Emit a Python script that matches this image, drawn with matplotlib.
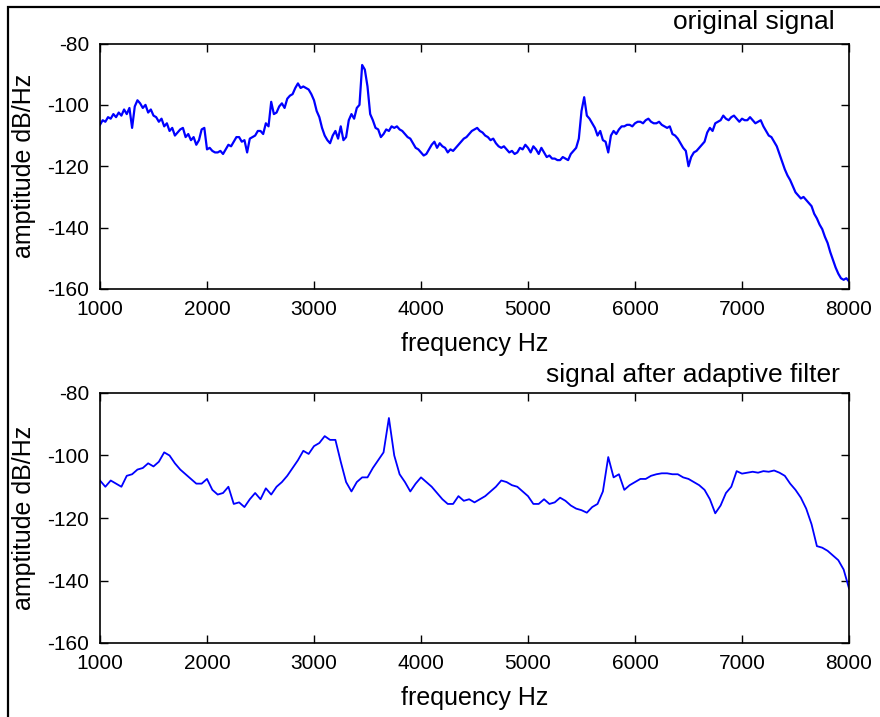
import numpy as np
import matplotlib
matplotlib.use("Agg")
import matplotlib.pyplot as plt
from matplotlib.patches import Rectangle

plt.rcParams['font.family'] = ['Liberation Sans', 'DejaVu Sans']
plt.rcParams['axes.unicode_minus'] = False

# frequency grids (Hz)
freq_orig = np.arange(1000, 8001, 25)
freq_filt = np.arange(1000, 8001, 50)

# original signal (dB/Hz), 25 Hz steps
original = [
    -106.5, -105, -105.5, -104, -104.5, -103, -104, -102.5, -103.5, -101.5,
    -103, -101, -107.5, -100.5, -98.5, -99.5, -101, -100, -102.5, -101.5,
    -103.5, -104, -105.5, -104.5, -107, -106, -108.5, -107.5, -110, -109,
    -108, -107.5, -110.5, -109.5, -111.5, -110.5, -113, -111.5, -108, -107.5,
    -114.5, -114, -115, -115.5, -115.5, -115, -116, -114.5, -113, -113.5,
    -112, -110.5, -110.5, -112, -111.5, -115.5, -111, -110.5, -110, -108.5,
    -108.5, -109.5, -106, -107, -99, -103, -102.5, -100.5, -99.5, -101,
    -98, -97, -96.5, -94.5, -93, -94.5, -94, -94.5, -95, -96.5,
    -98.5, -102, -104, -107.5, -110, -111.5, -112.5, -110, -108.5, -111,
    -107, -111.5, -110.5, -105, -103, -104.5, -101, -100, -87, -88.5,
    -94, -103, -105, -107.5, -108, -110.5, -109.5, -108, -108.5, -107,
    -107.5, -107, -108, -108.5, -109.5, -110.5, -111, -112.5, -114, -114.5,
    -115.5, -116.5, -116, -114.5, -113, -112, -114, -112.5, -113.5, -114,
    -115.5, -114.5, -115, -114, -113, -112, -111, -110.5, -109.5, -108.5,
    -108, -107.5, -108.5, -109, -110, -110.5, -111.5, -111, -112.5, -113.5,
    -114, -113.5, -114.5, -115.5, -115, -116, -115.5, -114, -114.5, -113,
    -114, -115.5, -113.5, -114.5, -116, -114, -115.5, -117, -116.5, -117.5,
    -117.5, -118, -118, -117, -117.5, -118, -116, -115, -114, -111,
    -102, -97.5, -103.5, -104.5, -106, -107.5, -110, -108.5, -111.5, -112,
    -115.5, -110, -108.5, -109.5, -108, -107, -107, -106.5, -106.5, -107,
    -106, -105.5, -105.5, -106, -105, -104.5, -105.5, -106, -106, -105.5,
    -106.5, -107, -107.5, -107, -109.5, -110, -111, -112.5, -114, -115,
    -120, -117, -115.5, -115, -114, -113, -112, -109, -107.5, -108.5,
    -106, -105.5, -105, -103.5, -104.5, -105, -104, -103.5, -104.5, -105.5,
    -104.5, -105, -105, -104, -105, -106, -105.5, -105, -107, -108.5,
    -110, -110.5, -112, -113.5, -116, -118.5, -121, -123, -124.5, -126.5,
    -128.5, -129.5, -130.5, -130, -131, -132, -133, -135.5, -137, -139,
    -140.5, -143, -145, -148, -150.5, -153, -155, -156.5, -157, -156.5,
    -157.5,
]

# signal after adaptive filter (dB/Hz), 50 Hz steps
filtered = [
    -108.0, -110.0, -108.0, -109.0, -110.0, -106.5, -106.0, -104.5, -104.0, -102.5,
    -103.5, -102.0, -99.0, -100.0, -102.5, -104.5, -106.0, -107.5, -109.0, -109.0,
    -107.5, -111.0, -112.5, -112.0, -110.0, -115.5, -115.0, -116.5, -114.0, -112.0,
    -114.0, -110.5, -112.5, -110.0, -108.5, -106.5, -104.0, -101.5, -98.5, -99.5,
    -97.0, -96.0, -93.8, -95.0, -95.0, -102.0, -108.5, -111.5, -108.5, -107.0,
    -107.0, -104.0, -101.5, -99.0, -88.0, -100.0, -106.0, -108.5, -111.5, -109.0,
    -107.0, -108.5, -110.0, -112.0, -114.0, -115.5, -115.5, -113.0, -114.5, -114.0,
    -115.0, -114.0, -113.0, -111.5, -110.0, -108.0, -108.5, -109.5, -110.0, -111.5,
    -113.0, -115.5, -115.5, -114.0, -115.5, -115.0, -113.5, -114.5, -116.0, -117.0,
    -117.5, -118.3, -116.5, -115.5, -111.5, -100.5, -107.0, -106.0, -111.0, -109.5,
    -108.5, -107.5, -107.5, -106.5, -106.0, -105.7, -105.7, -106.0, -106.0, -107.0,
    -107.5, -108.5, -109.5, -111.0, -114.0, -118.5, -116.0, -112.0, -110.0, -105.0,
    -105.8, -105.5, -105.2, -105.5, -105.0, -105.2, -104.8, -105.5, -106.5, -109.0,
    -111.0, -113.5, -117.0, -122.0, -129.0, -129.5, -130.5, -132.0, -133.5, -136.5,
    -142.5,
]

titles = ["original signal", "signal after adaptive filter"]
xticks = [1000, 2000, 3000, 4000, 5000, 6000, 7000, 8000]
yticks = [-160, -140, -120, -100, -80]
xlabel = "frequency Hz"
ylabel = "amptitude dB/Hz"

W, H = 880, 717
fig = plt.figure(figsize=(W / 100, H / 100), dpi=100)

axes_px = [(100, 43.5, 849, 289), (100, 393, 849, 643)]
title_px = [(835, 22), (840, 375)]
series = [(freq_orig, original), (freq_filt, filtered)]
lws = [1.6, 1.3]

for (x0, y0, x1, y1), (tx, ty), (fx, data), lw, title in zip(axes_px, title_px, series, lws, titles):
    ax = fig.add_axes([x0 / W, 1 - y1 / H, (x1 - x0) / W, (y1 - y0) / H])
    ax.plot(fx, data, color=(0, 0, 1), lw=lw)
    ax.set_xlim(1000, 8000)
    ax.set_ylim(-160, -80)
    ax.set_xticks(xticks)
    ax.set_yticks(yticks)
    ax.tick_params(direction='in', length=6, width=1, top=True, right=True,
                   labelsize=15, pad=8)
    for s in ax.spines.values():
        s.set_linewidth(1.2)
    ax.set_xlabel(xlabel, fontsize=18, labelpad=9)
    ax.set_ylabel(ylabel, fontsize=18)
    ax.yaxis.set_label_coords(-0.086, 0.5)
    fig.text(tx / W, 1 - ty / H, title, ha='right', va='center', fontsize=19)

# outer border
fig.patches.append(Rectangle((8 / W, -0.05), 1.2, 1 - 7 / H + 0.05,
                             transform=fig.transFigure, fill=False,
                             edgecolor='black', linewidth=1.6))

fig.savefig("out.png", dpi=100)
